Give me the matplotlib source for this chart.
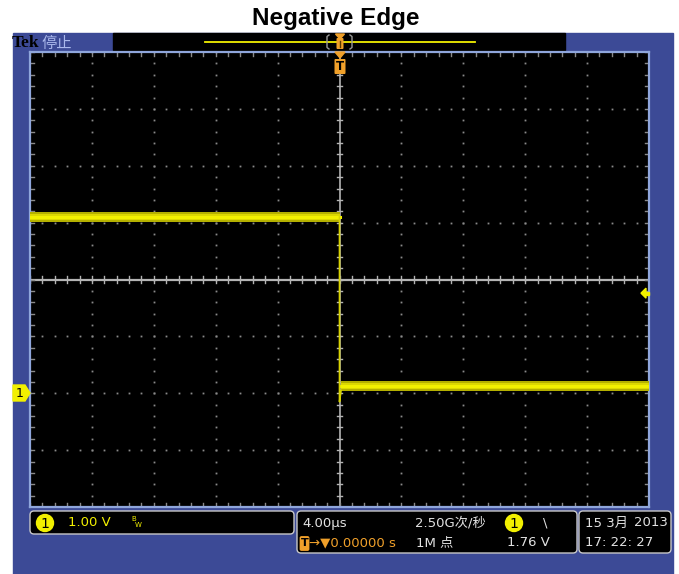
import numpy as np
import matplotlib.pyplot as plt
from matplotlib.patches import Rectangle, FancyBboxPatch, Polygon, Ellipse

# ---- scope settings ----
us_per_div = 4.0
v_per_div = 1.0
ch1_ground_div = -2.0
trig_level_v = 1.76

# ---- channel 1 trace (time in µs, level in V) ----
high_t = [-20.0, 0.0]
high_v = [3.10, 3.10]
low_t = [0.1, 20.0]
low_v = [0.13, 0.13]
edge_t = [0.0, 0.0, 0.1]
edge_v = [3.10, -0.15, 0.05]
noise_v = 0.09   # half width of the noisy band

# ---- readout texts ----
title = "Negative Edge"
scale_txt = f"{v_per_div:.2f} V"
timebase_txt = f"{us_per_div:.2f}µs"
rate_txt = "2.50G次/秒"
trig_pos_txt = "→▼0.00000 s"
points_txt = "1M 点"
trig_txt = f"{trig_level_v:.2f} V"
date_txt = "15 3月"
year_txt = "2013"
clock_txt = "17: 22: 27"

frame_blue = "#3c4a96"
border_blue = "#8fa6dc"
grid_gray = "#8a8a8a"
scope_yellow = "#f2f000"
band_yellow = "#b4b000"
text_white = "#e2e2e2"
orange = "#f0a02a"

narrow = ["Liberation Sans Narrow", "DejaVu Sans Condensed", "DejaVu Sans", "Noto Sans CJK SC"]
cjk = ["Noto Sans CJK SC", "DejaVu Sans"]

W, H = 679, 574
fig = plt.figure(figsize=(W / 100, H / 100), dpi=100)
fig.patch.set_facecolor("white")

# background layer in pixel coordinates
bg = fig.add_axes([0, 0, 1, 1], zorder=0)
bg.set_xlim(0, W)
bg.set_ylim(H, 0)
bg.axis("off")

bg.text(336, 19, title, ha="center", va="center", fontsize=17.5,
        fontweight="bold", family="Liberation Sans")
bg.add_patch(Rectangle((13, 33), 660, H - 33, color=frame_blue))

# record view bar
bg.add_patch(Rectangle((113, 33), 452, 17, color="black"))
bg.plot([205, 475], [41.5, 41.5], color=scope_yellow, lw=1.3)
for bx, d in [(327, 1), (352, -1)]:
    bg.plot([bx + 2 * d, bx, bx, bx + 2 * d], [35, 36.5, 47.5, 49], color="#9a9a9a", lw=1)

bg.text(12, 43, "Tek", ha="left", va="center", fontsize=12.5, fontweight="bold",
        family="Liberation Serif", color="black")
bg.text(41, 43, "停止", ha="left", va="center", fontsize=11, family=cjk, color="#aab8ec")

# status boxes
boxes = [(30, 511, 264, 23), (297, 511, 280, 42), (579, 511, 92, 42)]
for x0, y0, w, h in boxes:
    bg.add_patch(FancyBboxPatch((x0 + 4, y0 + 4), w - 8, h - 8,
                                boxstyle="round,pad=4", fc="black", ec="#c8c8c8", lw=1))

fs = 9.5
bg.add_patch(Ellipse((45, 523), 17, 17, color=scope_yellow))
bg.text(45, 523.5, "1", ha="center", va="center", fontsize=10, color="black", family=narrow)
bg.text(68, 523, scale_txt, ha="left", va="center", fontsize=fs, color=scope_yellow, family=narrow)
bg.text(131, 519, "B", ha="left", va="center", fontsize=5, color=scope_yellow, family=narrow)
bg.text(135, 525, "W", ha="left", va="center", fontsize=5, color=scope_yellow, family=narrow)

bg.text(302, 523, timebase_txt, ha="left", va="center", fontsize=fs, color=text_white, family=narrow)
bg.text(415, 523, rate_txt, ha="left", va="center", fontsize=fs, color=text_white, family=narrow)
bg.add_patch(Ellipse((514, 523), 17, 17, color=scope_yellow))
bg.text(514, 523.5, "1", ha="center", va="center", fontsize=10, color="black", family=narrow)
bg.text(543, 523, "\\", ha="left", va="center", fontsize=fs, color=text_white, family=narrow)

bg.add_patch(FancyBboxPatch((301.5, 538), 6, 11, boxstyle="round,pad=1.2", color=orange))
bg.text(304.5, 543.5, "T", ha="center", va="center", fontsize=8, fontweight="bold",
        color="black", family=narrow)
bg.text(309, 543, trig_pos_txt, ha="left", va="center", fontsize=fs, color=orange, family=narrow)
bg.text(416, 543, points_txt, ha="left", va="center", fontsize=fs, color=text_white, family=narrow)
bg.text(550, 543, trig_txt, ha="right", va="center", fontsize=fs, color=text_white, family=narrow)

bg.text(585, 523, date_txt, ha="left", va="center", fontsize=fs, color=text_white, family=narrow)
bg.text(668, 523, year_txt, ha="right", va="center", fontsize=fs, color=text_white, family=narrow)
bg.text(585, 543, clock_txt, ha="left", va="center", fontsize=fs, color=text_white, family=narrow)

# ---- graticule axes ----
px0, py0, px1, py1 = 30, 52, 649, 507
ax = fig.add_axes([px0 / W, 1 - py1 / H, (px1 - px0) / W, (py1 - py0) / H], zorder=1)
ax.set_facecolor("black")
t_min, t_max = -5 * us_per_div, 5 * us_per_div
v_mid = -ch1_ground_div * v_per_div
v_min, v_max = v_mid - 4 * v_per_div, v_mid + 4 * v_per_div
ax.set_xlim(t_min, t_max)
ax.set_ylim(v_min, v_max)
ax.set_xticks([])
ax.set_yticks([])
for s in ax.spines.values():
    s.set_color(border_blue)
    s.set_linewidth(1.6)

minor_t = np.arange(t_min, t_max + 1e-6, us_per_div / 5)
minor_v = np.arange(v_min, v_max + 1e-6, v_per_div / 5)
major_t = np.arange(t_min + us_per_div, t_max - 1e-6, us_per_div)
major_v = np.arange(v_min + v_per_div, v_max - 1e-6, v_per_div)

# dotted division lines
for t in major_t:
    if abs(t) < 1e-6:
        continue
    ax.plot(np.full_like(minor_v, t), minor_v, ls="none", marker="s", ms=1.3,
            mew=0, color=grid_gray)
for v in major_v:
    if abs(v - v_mid) < 1e-6:
        continue
    ax.plot(minor_t, np.full_like(minor_t, v), ls="none", marker="s", ms=1.3,
            mew=0, color=grid_gray)

# centre cross with tick marks
tx = 3 * 0.0646   # 3 px in µs
ty = 3 * 0.0176   # 3 px in V
ax.axvline(0, color="#b4b4b4", lw=1.2)
ax.axhline(v_mid, color="#b4b4b4", lw=1.6)
for v in minor_v:
    ax.plot([-tx, tx], [v, v], color="#b4b4b4", lw=1)
for t in minor_t:
    ax.plot([t, t], [v_mid - ty, v_mid + ty], color="#b4b4b4", lw=1)

# edge ticks
for t in minor_t:
    ax.plot([t, t], [v_max, v_max - 1.3 * ty], color=grid_gray, lw=1)
    ax.plot([t, t], [v_min, v_min + 1.3 * ty], color=grid_gray, lw=1)
for v in minor_v:
    ax.plot([t_min, t_min + 1.3 * tx], [v, v], color=grid_gray, lw=1)
    ax.plot([t_max, t_max - 1.3 * tx], [v, v], color=grid_gray, lw=1)

# ---- channel 1 trace ----
for tt, vv in [(high_t, high_v), (low_t, low_v)]:
    vv = np.array(vv)
    ax.fill_between(tt, vv - noise_v, vv + noise_v, color=band_yellow, lw=0, zorder=3)
    ax.fill_between(tt, vv - noise_v * 0.55, vv + noise_v * 0.55, color="#dcd800", lw=0, zorder=3)
    ax.plot(tt, vv, color=scope_yellow, lw=2.2, zorder=4)
ax.plot(edge_t, edge_v, color="#d6d200", lw=1.2, zorder=4)

# ---- markers on top ----
fg = fig.add_axes([0, 0, 1, 1], zorder=2)
fg.set_xlim(0, W)
fg.set_ylim(H, 0)
fg.axis("off")
fg.patch.set_alpha(0)

# trigger position (record bar and graticule top)
fg.add_patch(Polygon([(335.5, 34), (344.5, 34), (340, 39)], color=orange))
fg.add_patch(FancyBboxPatch((337.5, 39), 5, 9, boxstyle="round,pad=1", fc=orange, ec="none"))
fg.plot([340, 340], [41, 47], color="#5a3a00", lw=1)
fg.add_patch(Polygon([(335, 52), (345, 52), (340, 58)], color=orange))
fg.add_patch(FancyBboxPatch((335.5, 60), 9, 13, boxstyle="round,pad=1", fc=orange, ec="none"))
fg.text(340, 66.5, "T", ha="center", va="center", fontsize=8.5, fontweight="bold",
        color="black", family="DejaVu Sans")

# channel 1 ground marker
fg.add_patch(Polygon([(13, 385), (25, 385), (30, 393), (25, 401), (13, 401)], color=scope_yellow))
fg.text(19.5, 393.5, "1", ha="center", va="center", fontsize=9, color="black", family=narrow)

# trigger level marker
ay = py0 + (v_max - trig_level_v) / (v_max - v_min) * (py1 - py0)
fg.add_patch(Polygon([(641, ay), (646, ay - 5), (646, ay + 5)], color=scope_yellow))
fg.add_patch(Rectangle((646, ay - 1.5), 3, 3, color=scope_yellow))

fig.savefig("out.png", dpi=100, facecolor="white")
